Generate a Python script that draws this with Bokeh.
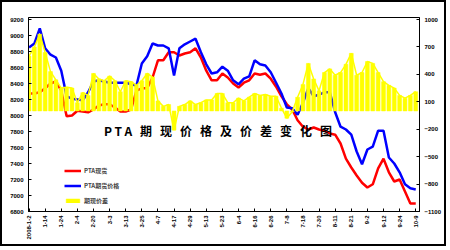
import math
from bokeh.plotting import figure
from bokeh.models import (Range1d, LinearAxis, FixedTicker, Legend, LegendItem,
                          Label, ColumnDataSource)
from bokeh.embed import file_html
from bokeh.resources import INLINE

# ---- data ----
tick_labels = ["2008-1-2", "1-14", "1-24", "2-4", "2-20", "3-3", "3-13", "3-25",
               "4-7", "4-17", "4-29", "5-13", "5-23", "6-4", "6-16", "6-26",
               "7-8", "7-18", "7-30", "8-11", "8-21", "9-2", "9-12", "9-24", "10-9"]

left_ticks = [6800, 7000, 7200, 7400, 7600, 7800, 8000, 8200, 8400, 8600, 8800, 9000, 9200]
right_ticks = [-1100, -800, -500, -200, 100, 400, 700, 1000]

spot = [8275, 8275, 8290, 8340, 8400, 8425, 8310, 7990, 8000, 8060,
        8050, 8040, 8075, 8125, 8140, 8140, 8100, 8050, 8050, 8075,
        8310, 8340, 8340, 8475, 8690, 8690, 8790, 8790, 8750, 8775,
        8790, 8840, 8725, 8560, 8440, 8440, 8525, 8475, 8400, 8350,
        8410, 8440, 8525, 8510, 8525, 8460, 8360, 8240, 8140, 8075,
        7940, 7860, 7825, 7850, 7825, 7810, 7775, 7760, 7650, 7460,
        7350, 7250, 7160, 7100, 7140, 7340, 7460, 7290, 7175, 7200,
        7050, 6900, 6900]

futures = [8850, 8900, 9090, 8840, 8760, 8725, 8560, 8240, 8210, 8200,
           8190, 8290, 8425, 8440, 8425, 8410, 8410, 8410, 8410, 8390,
           8375, 8650, 8740, 8900, 8875, 8875, 8840, 8500, 8840, 8890,
           8925, 8960, 8790, 8640, 8525, 8540, 8610, 8560, 8440, 8390,
           8460, 8490, 8690, 8640, 8625, 8540, 8410, 8275, 8100, 8090,
           8010, 8160, 8340, 8240, 8260, 8290, 8290, 8040, 7860, 7825,
           7760, 7550, 7390, 7575, 7610, 7810, 7810, 7475, 7400, 7290,
           7140, 7090, 7075]

spread = [600, 700, 840, 640, 430, 340, 250, 260, 250, 90,
          200, 170, 410, 350, 330, 380, 330, 210, 330, 320,
          280, 330, 410, 370, 110, 50, 70, -210, 50, 70,
          110, 70, 90, 120, 120, 190, 190, 90, 90, 140,
          110, 150, 190, 170, 180, 160, 160, 30, -80, -10,
          150, 290, 520, 350, 220, 420, 460, 390, 420, 510,
          630, 390, 420, 540, 520, 420, 320, 280, 250, 170,
          140, 170, 210]

series_names = ["PTA现货", "PTA期货价格", "期现价差"]
sp = "\u2002\u2006"
title_text = "P\u2009T\u2009A" + sp + sp.join("期现价格及价差变化图")

n = len(spot)
src = ColumnDataSource(dict(x=list(range(n)), spot=spot, futures=futures, spread=spread))

FONT = "Liberation Sans"
CJK = "Noto Sans CJK SC"

p = figure(width=446, height=246, output_backend="svg", toolbar_location=None,
           x_range=Range1d(-0.1, n - 1 + 0.7), y_range=Range1d(6800, 9225),
           min_border_left=26, min_border_right=29, min_border_top=15,
           min_border_bottom=37, background_fill_color="white",
           border_fill_color="white")
p.extra_y_ranges = {"spread": Range1d(-1100, 1022)}
p.grid.visible = False
p.outline_line_color = "black"
p.outline_line_width = 1
p.styles = {"border": "2px solid black"}

r_spot = p.line("x", "spot", source=src, color="#FF0000", line_width=2.5)
r_fut = p.line("x", "futures", source=src, color="#0000FF", line_width=2.5)
r_bar = p.vbar(x="x", top="spread", bottom=0, width=0.72, source=src,
               fill_color="#FFFF00", line_color="#FFFF00", line_width=0.5,
               y_range_name="spread")
r_top = p.line("x", "spread", source=src, color="#FFFF00", line_width=1.5,
               y_range_name="spread")

# axes
def style_axis(ax):
    ax.axis_line_color = "black"
    ax.major_tick_line_color = "black"
    ax.major_tick_in = 3
    ax.major_tick_out = 0
    ax.minor_tick_line_color = None
    ax.major_label_text_font = FONT
    ax.major_label_text_font_size = "6px"
    ax.major_label_text_font_style = "bold"
    ax.major_label_text_color = "black"

p.yaxis.ticker = FixedTicker(ticks=left_ticks)
p.yaxis.major_label_standoff = 5
style_axis(p.yaxis[0])

ax_r = LinearAxis(y_range_name="spread", ticker=FixedTicker(ticks=right_ticks))
style_axis(ax_r)
ax_r.major_label_standoff = 5
p.add_layout(ax_r, "right")

xticks = [i * 3 for i in range(len(tick_labels))]
p.xaxis.ticker = FixedTicker(ticks=xticks)
p.xaxis.major_label_overrides = {t: lab for t, lab in zip(xticks, tick_labels)}
p.xaxis.major_label_orientation = math.pi / 2
p.xaxis.major_label_standoff = 4
style_axis(p.xaxis[0])

# title inside plot
title = Label(x=35.2, y=7810, text=title_text, text_font=CJK, text_font_size="12px",
              text_font_style="bold", text_color="black", text_align="center",
              text_baseline="middle")
p.add_layout(title)

legend = Legend(items=[LegendItem(label=series_names[0], renderers=[r_spot]),
                       LegendItem(label=series_names[1], renderers=[r_fut]),
                       LegendItem(label=series_names[2], renderers=[r_bar])],
                location=(36, 3), border_line_color=None, background_fill_alpha=0,
                glyph_width=17, glyph_height=5, label_height=15, spacing=0,
                padding=0, margin=0, label_standoff=3,
                label_text_font=CJK, label_text_font_size="6px",
                label_text_font_style="bold")
p.add_layout(legend)

open("out.html", "w").write(file_html(p, INLINE))
